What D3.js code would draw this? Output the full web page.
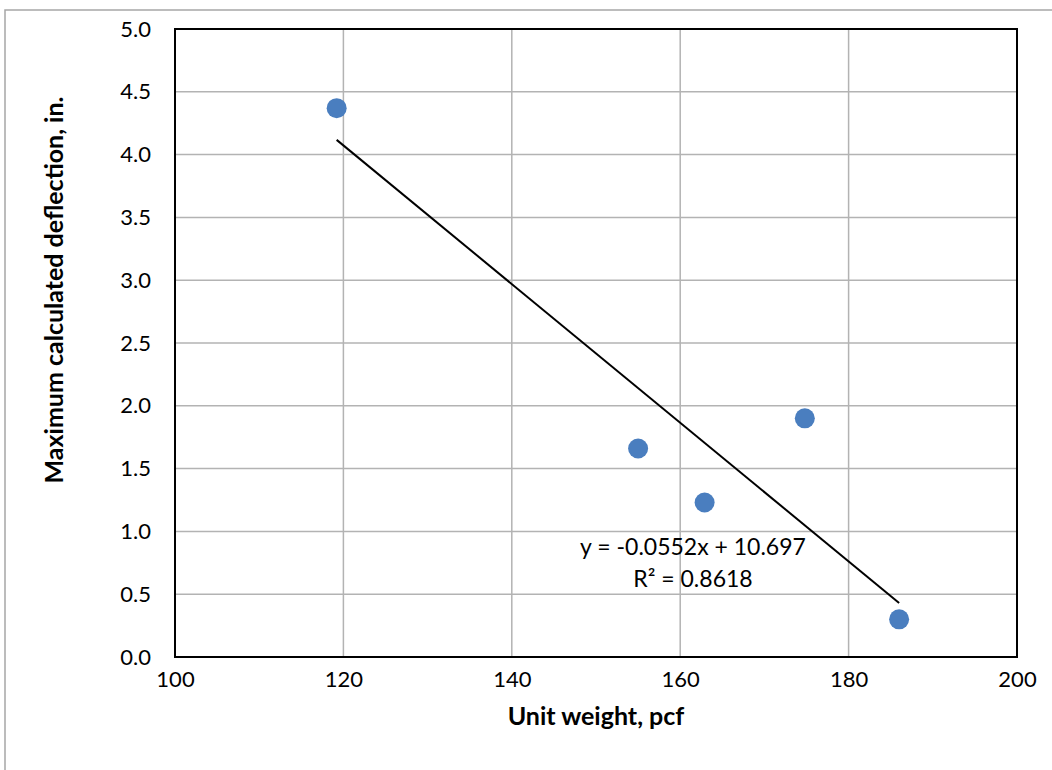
<!DOCTYPE html>
<html>
<head>
<meta charset="utf-8">
<script src="https://cdn.jsdelivr.net/npm/d3@7"></script>
<style>
  body { margin: 0; background: #fff; }
  svg { display: block; font-family: Lato, "Open Sans", sans-serif; }
</style>
</head>
<body>
<div id="chart"></div>
<script>
// Data
const unitWeight = [119.2, 155.0, 162.9, 174.8, 186.0];
const deflection = [4.37, 1.66, 1.23, 1.90, 0.30];
const xTicks = [100, 120, 140, 160, 180, 200];
const yTicks = [0, 0.5, 1, 1.5, 2, 2.5, 3, 3.5, 4, 4.5, 5];
const trendSlope = -0.0552;
const trendIntercept = 10.697;
const trendLabel = ["y = -0.0552x + 10.697", "R² = 0.8618"];

// Dimensions
const dimensions = {
  width: 1052,
  height: 770,
  left: 175,
  right: 1017,
  top: 29,
  bottom: 657,
};

const svg = d3
  .select("#chart")
  .append("svg")
  .attr("width", dimensions.width)
  .attr("height", dimensions.height);

// Outer chart frame (top and left edges visible)
svg.append("path")
  .attr("d", `M5,${dimensions.height} V10 H${dimensions.width}`)
  .attr("fill", "none")
  .attr("stroke", "#a6a6a6")
  .attr("stroke-width", 1.5);

const xScale = d3.scaleLinear().domain([100, 200]).range([dimensions.left, dimensions.right]);
const yScale = d3.scaleLinear().domain([0, 5]).range([dimensions.bottom, dimensions.top]);

// Grid lines
svg.append("g")
  .selectAll("line")
  .data(xTicks)
  .join("line")
  .attr("x1", (d) => xScale(d))
  .attr("x2", (d) => xScale(d))
  .attr("y1", dimensions.top)
  .attr("y2", dimensions.bottom)
  .attr("stroke", "#b3b3b3")
  .attr("stroke-width", 1.5);

svg.append("g")
  .selectAll("line")
  .data(yTicks)
  .join("line")
  .attr("x1", dimensions.left)
  .attr("x2", dimensions.right)
  .attr("y1", (d) => yScale(d))
  .attr("y2", (d) => yScale(d))
  .attr("stroke", "#b3b3b3")
  .attr("stroke-width", 1.5);

// Plot border
svg.append("rect")
  .attr("x", dimensions.left)
  .attr("y", dimensions.top)
  .attr("width", dimensions.right - dimensions.left)
  .attr("height", dimensions.bottom - dimensions.top)
  .attr("fill", "none")
  .attr("stroke", "#000")
  .attr("stroke-width", 2);

// Axes (labels only)
const xAxis = d3.axisBottom(xScale).tickValues(xTicks).tickSize(0).tickPadding(14).tickFormat(d3.format("d"));
const xAxisGroup = svg.append("g")
  .attr("transform", `translate(0, ${dimensions.bottom})`)
  .call(xAxis);

const yAxis = d3.axisLeft(yScale).tickValues(yTicks).tickSize(0).tickPadding(24).tickFormat(d3.format(".1f"));
const yAxisGroup = svg.append("g")
  .attr("transform", `translate(${dimensions.left}, 0)`)
  .call(yAxis);

[xAxisGroup, yAxisGroup].forEach((g) => {
  g.select(".domain").remove();
  g.selectAll("text").attr("font-size", 22).attr("fill", "#000")
    .attr("font-family", "Lato, 'Open Sans', sans-serif");
});

// Axis titles
svg.append("text")
  .attr("x", (dimensions.left + dimensions.right) / 2)
  .attr("y", 725)
  .attr("text-anchor", "middle")
  .attr("font-size", 25)
  .attr("font-weight", "bold")
  .text("Unit weight, pcf");

svg.append("text")
  .attr("transform", "translate(63, 290) rotate(-90)")
  .attr("text-anchor", "middle")
  .attr("font-size", 25)
  .attr("font-weight", "bold")
  .text("Maximum calculated deflection, in.");

// Trendline
const xMin = d3.min(unitWeight);
const xMax = d3.max(unitWeight);
svg.append("line")
  .attr("x1", xScale(xMin))
  .attr("y1", yScale(trendSlope * xMin + trendIntercept))
  .attr("x2", xScale(xMax))
  .attr("y2", yScale(trendSlope * xMax + trendIntercept))
  .attr("stroke", "#000")
  .attr("stroke-width", 2);

// Points
svg.append("g")
  .selectAll("circle")
  .data(unitWeight)
  .join("circle")
  .attr("cx", (d) => xScale(d))
  .attr("cy", (d, i) => yScale(deflection[i]))
  .attr("r", 10)
  .attr("fill", "#4a7ebf");

// Trendline label
svg.append("text")
  .attr("x", 693)
  .attr("y", 555)
  .attr("text-anchor", "middle")
  .attr("font-size", 23)
  .selectAll("tspan")
  .data(trendLabel)
  .join("tspan")
  .attr("x", 693)
  .attr("dy", (d, i) => (i === 0 ? 0 : 32))
  .text((d) => d);
</script>
</body>
</html>
